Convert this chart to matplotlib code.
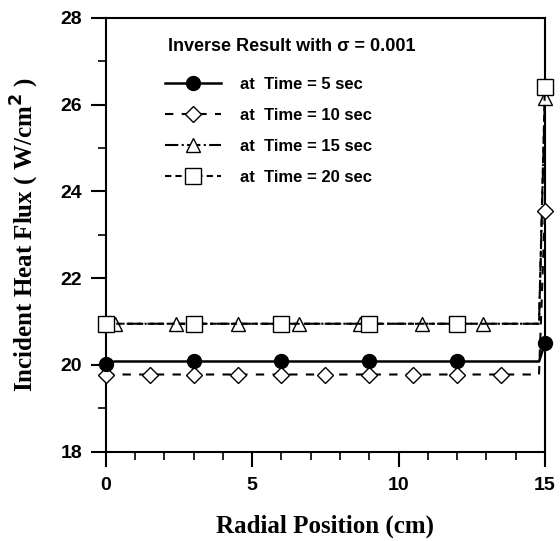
import numpy as np
import matplotlib.pyplot as plt
from matplotlib.ticker import MultipleLocator

plt.rcParams['font.family'] = ['Liberation Sans', 'DejaVu Sans']
plt.rcParams['font.weight'] = 'bold'

# 5 sec
x5 = [0, 0.3, 3, 6, 9, 12, 14.8, 15]
y5 = [20.03, 20.08, 20.08, 20.08, 20.08, 20.08, 20.08, 20.5]
m5 = [0, 2, 3, 4, 5, 7]
# 10 sec
x10 = [0, 1.5, 3, 4.5, 6, 7.5, 9, 10.5, 12, 13.5, 14.8, 15]
y10 = [19.78, 19.78, 19.78, 19.78, 19.78, 19.78, 19.78, 19.78, 19.78, 19.78, 19.78, 23.55]
m10 = [0, 1, 2, 3, 4, 5, 6, 7, 8, 9, 11]
# 15 sec
x15 = [0, 0.3, 2.4, 4.5, 6.6, 8.7, 10.8, 12.9, 14.8, 15]
y15 = [20.95, 20.95, 20.95, 20.95, 20.95, 20.95, 20.95, 20.95, 20.95, 26.15]
m15 = [1, 2, 3, 4, 5, 6, 7, 9]
# 20 sec
x20 = [0, 3, 6, 9, 12, 14.8, 15]
y20 = [20.95, 20.95, 20.95, 20.95, 20.95, 20.95, 26.4]
m20 = [0, 1, 2, 3, 4, 6]

fig = plt.figure(figsize=(5.6, 5.41), dpi=100)
ax = fig.add_axes([0.189, 0.165, 0.784, 0.802])

ax.plot(x5, y5, '-', color='black', lw=1.8, marker='o', ms=10,
        mfc='black', markevery=m5, clip_on=False, zorder=5, label='at  Time = 5 sec')
ax.plot(x10, y10, '--', color='black', lw=1.5, dashes=(4, 4), marker='D', ms=8,
        mfc='white', markevery=m10, clip_on=False, zorder=4, label='at  Time = 10 sec')
ax.plot(x15, y15, '-.', color='black', lw=1.5, marker='^', ms=10,
        mfc='white', markevery=m15, clip_on=False, zorder=3, label='at  Time = 15 sec')
ax.plot(x20, y20, '--', color='black', lw=1.5, dashes=(3, 2), marker='s', ms=11,
        mfc='white', markevery=m20, clip_on=False, zorder=3, label='at  Time = 20 sec')

ax.set_xlim(0, 15)
ax.set_ylim(18, 28)
ax.xaxis.set_major_locator(MultipleLocator(5))
ax.xaxis.set_minor_locator(MultipleLocator(1))
ax.yaxis.set_major_locator(MultipleLocator(2))
ax.yaxis.set_minor_locator(MultipleLocator(1))
ax.tick_params(which='major', direction='out', length=10.5, width=1.5, labelsize=14)
ax.tick_params(axis='x', which='major', pad=8)
ax.tick_params(axis='y', which='major', pad=6.5)
ax.tick_params(which='minor', direction='out', length=5.5, width=1.2)
for s in ax.spines.values():
    s.set_linewidth(1.5)

ax.set_xlabel('Radial Position (cm)', family='Liberation Serif', fontweight='bold',
              fontsize=18)
ax.xaxis.set_label_coords(0.5, -0.145)
ax.set_ylabel('Incident Heat Flux ( W/cm$^\\mathbf{2}$ )', family='Liberation Serif',
              fontweight='bold', fontsize=18)
ax.yaxis.set_label_coords(-0.148, 0.5)

ax.text(0.141, 0.933, 'Inverse Result with σ = 0.001', transform=ax.transAxes,
        fontsize=13, fontweight='bold', ha='left', va='center')
leg = ax.legend(loc='upper left', bbox_to_anchor=(0.134, 0.863), frameon=False,
                borderaxespad=0, borderpad=0, handlelength=3.4,
                handletextpad=1.1, labelspacing=0.95,
                prop={'weight': 'bold', 'size': 12})

fig.savefig('out.png', dpi=100)
